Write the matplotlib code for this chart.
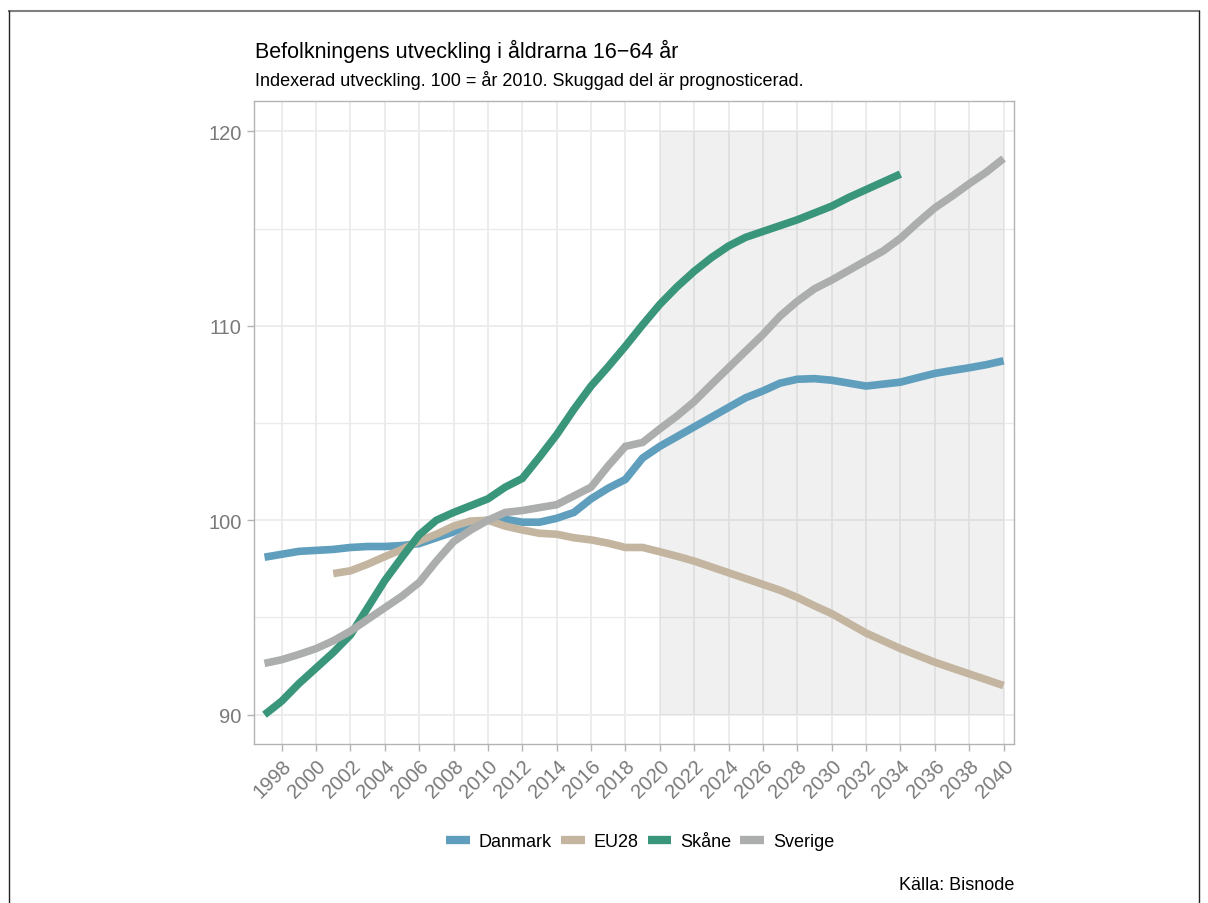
import numpy as np
import matplotlib
matplotlib.use('Agg')
import matplotlib.pyplot as plt
from matplotlib.lines import Line2D

plt.rcParams['font.family'] = ['Liberation Sans', 'DejaVu Sans']

# data (index, 2010 = 100)
years_dk = list(range(1997, 2041))
danmark = [98.1, 98.25, 98.4, 98.45, 98.5, 98.6, 98.65, 98.65, 98.7, 98.8,
           99.1, 99.4, 99.8, 100.0, 100.05, 99.9, 99.9, 100.1, 100.4, 101.1,
           101.65, 102.1, 103.2, 103.8, 104.3, 104.8, 105.3, 105.8, 106.3, 106.65,
           107.05, 107.25, 107.28, 107.2, 107.05, 106.9, 107.0, 107.1, 107.33, 107.55,
           107.7, 107.84, 108.0, 108.2]

years_eu = list(range(2001, 2041))
eu28 = [97.26, 97.4, 97.74, 98.13, 98.5, 98.94, 99.28, 99.7, 99.96, 100.0,
        99.7, 99.5, 99.33, 99.28, 99.1, 98.99, 98.82, 98.6, 98.6, 98.38,
        98.15, 97.9, 97.6, 97.3, 97.0, 96.7, 96.4, 96.03, 95.6, 95.2,
        94.7, 94.2, 93.8, 93.4, 93.05, 92.7, 92.4, 92.1, 91.8, 91.5]

years_sk = list(range(1997, 2035))
skane = [90.0, 90.7, 91.6, 92.4, 93.2, 94.1, 95.5, 96.9, 98.1, 99.25,
         100.0, 100.4, 100.75, 101.1, 101.7, 102.15, 103.25, 104.4, 105.7, 106.9,
         107.9, 108.95, 110.05, 111.1, 112.0, 112.8, 113.5, 114.1, 114.55, 114.85,
         115.15, 115.45, 115.8, 116.15, 116.6, 117.0, 117.4, 117.8]

years_se = list(range(1997, 2041))
sverige = [92.64, 92.83, 93.1, 93.4, 93.8, 94.3, 94.9, 95.5, 96.1, 96.8,
           97.9, 98.9, 99.5, 100.0, 100.4, 100.5, 100.65, 100.8, 101.25, 101.7,
           102.8, 103.8, 104.0, 104.7, 105.36, 106.1, 106.98, 107.84, 108.7, 109.55,
           110.5, 111.26, 111.9, 112.35, 112.85, 113.35, 113.85, 114.5, 115.3, 116.06,
           116.66, 117.3, 117.9, 118.6]

series = [('Danmark', years_dk, danmark, '#5f9fbd'),
          ('EU28', years_eu, eu28, '#c4b5a0'),
          ('Skåne', years_sk, skane, '#3a967a'),
          ('Sverige', years_se, sverige, '#abaeac')]

forecast_start, forecast_end = 2020, 2040

fig = plt.figure(figsize=(12.08, 9.04), dpi=100)
ax = fig.add_axes([0.210, 0.176, 0.629, 0.711])

# forecast shading
ax.fill_between([forecast_start, forecast_end], 90, 120, color='#7f7f7f',
                alpha=0.11, lw=0, zorder=1)

for name, xs, ys, col in series:
    ax.plot(xs, ys, color=col, lw=5.5, label=name, zorder=3,
            solid_capstyle='butt', solid_joinstyle='miter')

ax.set_xlim(1996.37, 2040.58)
ax.set_ylim(88.5, 121.55)
ax.set_xticks(range(1998, 2041, 2))
ax.set_yticks([90, 100, 110, 120])
ax.set_yticks([95, 105, 115], minor=True)
ax.grid(True, which='major', color='#ebebeb', lw=1.3, zorder=0)
ax.grid(True, which='minor', axis='y', color='#ebebeb', lw=1.0, zorder=0)
ax.set_axisbelow(True)
ax.tick_params(axis='both', which='major', colors='#b3b3b3', length=5, width=1,
               labelcolor='#7a7a7a', labelsize=14.5)
ax.tick_params(axis='y', which='minor', length=0)
plt.setp(ax.get_xticklabels(), rotation=45, ha='right', rotation_mode='anchor')
for sp in ax.spines.values():
    sp.set_color('#b3b3b3')
    sp.set_linewidth(1.0)

fig.text(0.211, 0.943, 'Befolkningens utveckling i åldrarna 16−64 år',
         fontsize=15.5, va='center', ha='left', color='black')
fig.text(0.211, 0.911, 'Indexerad utveckling. 100 = år 2010. Skuggad del är prognosticerad.',
         fontsize=13, va='center', ha='left', color='black')

leg = fig.legend(loc='center', bbox_to_anchor=(0.53, 0.068), ncol=4, frameon=False,
                 fontsize=13, handlelength=1.3, handletextpad=0.5, columnspacing=0.5)
for h in leg.get_lines():
    h.set_linewidth(6)

fig.text(0.840, 0.021, 'Källa: Bisnode', fontsize=13, ha='right', va='center')

# outer frame
fig.add_artist(Line2D([0.0075, 0.9925], [0.987, 0.987], color='#7f7f7f', lw=1.5,
                      transform=fig.transFigure))
fig.add_artist(Line2D([0.0075, 0.0075], [0.0, 0.987], color='#222222', lw=1.0,
                      transform=fig.transFigure))
fig.add_artist(Line2D([0.9925, 0.9925], [0.0, 0.987], color='#222222', lw=1.0,
                      transform=fig.transFigure))

fig.savefig('out.png', dpi=100)
